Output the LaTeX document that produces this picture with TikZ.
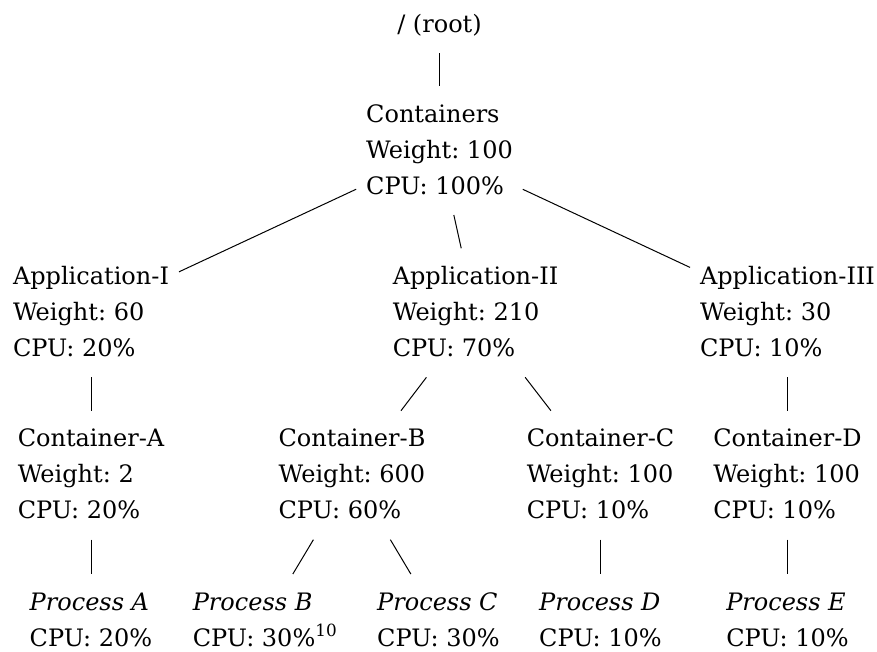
\documentclass[tikz,border=0pt]{standalone}
\usepackage{fontspec}
\setmainfont{DejaVu Serif}
\newcommand\tsr{\rule{0pt}{36pt}}
\newcommand\bsr{\rule[-21pt]{0pt}{21pt}}
\begin{document}
\begin{tikzpicture}[x=1pt,y=-1pt,
  lbl/.style={align=left, inner xsep=10pt, inner ysep=0pt, outer sep=0pt, anchor=north,
    font=\fontsize{24pt}{36pt}\selectfont\frenchspacing},
  conn/.style={draw=black, line width=1pt}]
\useasboundingbox (0,0) rectangle (877,651);
% level 0
\node[lbl] (root) at (439.5,-4) {\tsr/ (root)\bsr};
% level 1
\node[lbl] (cont) at (439.5,86) {\tsr Containers\\Weight: 100\\CPU: 100\%\bsr};
% level 2
\node[lbl] (app1) at (91,248.3) {\tsr Application-I\\Weight: 60\\CPU: 20\%\bsr};
\node[lbl] (app2) at (475.5,248.3) {\tsr Application-II\\Weight: 210\\CPU: 70\%\bsr};
\node[lbl] (app3) at (787.5,248.3) {\tsr Application-III\\Weight: 30\\CPU: 10\%\bsr};
% level 3
\node[lbl] (ca) at (91,410.7) {\tsr Container-A\\Weight: 2\\CPU: 20\%\bsr};
\node[lbl] (cb) at (352,410.7) {\tsr Container-B\\Weight: 600\\CPU: 60\%\bsr};
\node[lbl] (cc) at (600.5,410.7) {\tsr Container-C\\Weight: 100\\CPU: 10\%\bsr};
\node[lbl] (cd) at (787.5,410.7) {\tsr Container-D\\Weight: 100\\CPU: 10\%\bsr};
% level 4
\node[lbl] (pa) at (91,574) {\tsr\textit{Process A}\\CPU: 20\%\bsr};
\node[lbl] (pb) at (265,574) {\tsr\textit{Process B}\\CPU: 30\%\textsuperscript{10}\bsr};
\node[lbl] (pc) at (438.5,574) {\tsr\textit{Process C}\\CPU: 30\%\bsr};
\node[lbl] (pd) at (600.5,574) {\tsr\textit{Process D}\\CPU: 10\%\bsr};
\node[lbl] (pe) at (787.5,574) {\tsr\textit{Process E}\\CPU: 10\%\bsr};
% connectors
\draw[conn] (root) -- (cont);
\draw[conn] (cont) -- (app1);
\draw[conn] (cont) -- (app2);
\draw[conn] (cont) -- (app3);
\draw[conn] (app1) -- (ca);
\draw[conn] (app2) -- (cb);
\draw[conn] (app2) -- (cc);
\draw[conn] (app3) -- (cd);
\draw[conn] (ca) -- (pa);
\draw[conn] (cb) -- (pb);
\draw[conn] (cb) -- (pc);
\draw[conn] (cc) -- (pd);
\draw[conn] (cd) -- (pe);
\end{tikzpicture}
\end{document}
